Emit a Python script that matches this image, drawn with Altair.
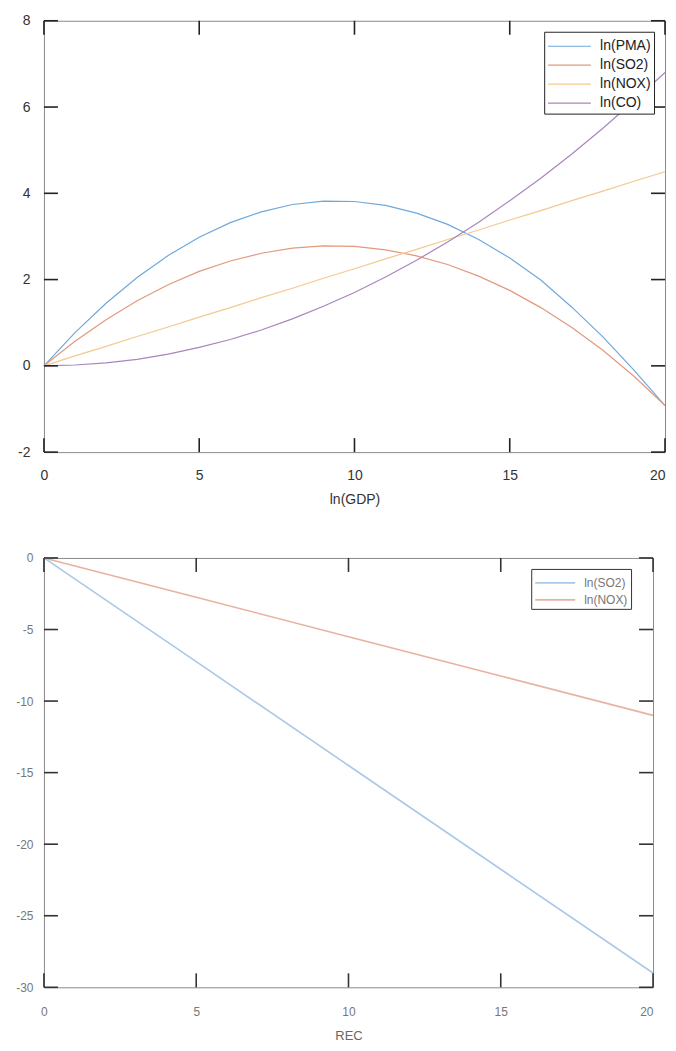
import altair as alt
import pandas as pd

# ---------------- data ----------------
x_gdp = list(range(0, 21))
pma = [0, 0.77, 1.45, 2.05, 2.56, 2.98, 3.32, 3.57, 3.74, 3.82, 3.81,
       3.72, 3.54, 3.28, 2.93, 2.50, 1.99, 1.36, 0.67, -0.10, -0.92]
so2 = [0, 0.57, 1.07, 1.51, 1.88, 2.19, 2.43, 2.61, 2.73, 2.78, 2.77,
       2.69, 2.55, 2.35, 2.08, 1.75, 1.35, 0.89, 0.36, -0.24, -0.92]
nox = [0, 0.23, 0.45, 0.68, 0.90, 1.13, 1.35, 1.58, 1.80, 2.03, 2.25,
       2.48, 2.70, 2.93, 3.15, 3.38, 3.60, 3.83, 4.05, 4.28, 4.50]
co = [0, 0.02, 0.07, 0.15, 0.27, 0.43, 0.61, 0.83, 1.09, 1.38, 1.70,
      2.06, 2.45, 2.87, 3.33, 3.83, 4.35, 4.91, 5.51, 6.14, 6.80]
names_top = ["ln(PMA)", "ln(SO2)", "ln(NOX)", "ln(CO)"]
colors_top = ["#6fa8dc", "#e3997d", "#f3c98e", "#a985bd"]
xt_top = [0, 5, 10, 15, 20]
yt_top = [-2, 0, 2, 4, 6, 8]

x_rec = [0, 5, 10, 15, 20]
rec_so2 = [0, -7.25, -14.5, -21.75, -29.0]
rec_nox = [0, -2.75, -5.5, -8.25, -11.0]
names_bot = ["ln(SO2)", "ln(NOX)"]
colors_bot = ["#a9c9e8", "#e8b2a2"]
xt_bot = [0, 5, 10, 15, 20]
yt_bot = [-30, -25, -20, -15, -10, -5, 0]

FONT = "Liberation Sans"
LABEL_EXPR = "datum.value + ''"
XALIGN = alt.expr("datum.value == 20 ? 'right' : 'center'")


def panel(df, names, colors, xt, yt, xdom, ydom, W, H, L, tickcolor, xaxis, yaxis, legend, lw):
    xs = alt.Scale(domain=xdom, nice=False, zero=False)
    ys = alt.Scale(domain=ydom, nice=False, zero=False)
    lines = alt.Chart(df).mark_line(strokeWidth=lw).encode(
        x=alt.X("x:Q", scale=xs, axis=xaxis),
        y=alt.Y("y:Q", scale=ys, axis=yaxis),
        color=alt.Color("s:N", scale=alt.Scale(domain=names, range=colors), legend=legend),
        detail="s:N",
    )
    dx = pd.DataFrame({"x": xt})
    dy = pd.DataFrame({"y": yt})
    common = dict(color=tickcolor, strokeWidth=1.6)
    bottom = alt.Chart(dx).mark_rule(**common).encode(
        x=alt.X("x:Q", scale=xs, axis=xaxis), y=alt.value(H), y2=alt.value(H - L))
    top = alt.Chart(dx).mark_rule(**common).encode(
        x=alt.X("x:Q", scale=xs, axis=xaxis), y=alt.value(0), y2=alt.value(L))
    left = alt.Chart(dy).mark_rule(**common).encode(
        y=alt.Y("y:Q", scale=ys, axis=yaxis), x=alt.value(0), x2=alt.value(L))
    right = alt.Chart(dy).mark_rule(**common).encode(
        y=alt.Y("y:Q", scale=ys, axis=yaxis), x=alt.value(W - L), x2=alt.value(W))
    return alt.layer(lines, bottom, top, left, right).properties(width=W, height=H)


# ---------------- top chart ----------------
W1, H1 = 622, 432
df_top = pd.DataFrame({
    "x": x_gdp * 4,
    "y": pma + so2 + nox + co,
    "s": [n for n in names_top for _ in x_gdp],
})
xaxis_top = alt.Axis(values=xt_top, title="ln(GDP)", ticks=False, domain=False,
                     grid=False, labelPadding=16, labelFontSize=14, labelAlign=XALIGN,
                     labelColor="#333", titleFontSize=14, titleFontWeight="normal",
                     titleColor="#333", titlePadding=10, labelFont=FONT, titleFont=FONT,
                     labelExpr=LABEL_EXPR)
yaxis_top = alt.Axis(values=yt_top, title=None, ticks=False, domain=False, grid=False,
                     labelPadding=14, labelFontSize=14, labelColor="#333",
                     labelFont=FONT, minExtent=35, maxExtent=35, labelExpr=LABEL_EXPR)
legend_top = alt.Legend(title=None, orient="top-right", offset=11,
                        strokeColor="#222", fillColor="white", padding=3,
                        symbolType="M-1,0H3", symbolSize=462,
                        symbolStrokeWidth=1.2, labelFontSize=14,
                        labelFont=FONT, labelColor="#222",
                        labelOffset=30, rowPadding=0)
top_chart = panel(df_top, names_top, colors_top, xt_top, yt_top, [0, 20], [-2, 8],
                  W1, H1, 14, "#222", xaxis_top, yaxis_top, legend_top, 1.2)

# ---------------- bottom chart ----------------
W2, H2 = 610, 430
df_bot = pd.DataFrame({
    "x": x_rec * 2,
    "y": rec_so2 + rec_nox,
    "s": [n for n in names_bot for _ in x_rec],
})
xaxis_bot = alt.Axis(values=xt_bot, title="REC", ticks=False, domain=False,
                     grid=False, labelPadding=19, labelFontSize=12, labelAlign=XALIGN,
                     labelColor="#777", titleFontSize=13, titleFontWeight="normal",
                     titleColor="#666", titlePadding=12, labelFont=FONT, titleFont=FONT,
                     labelExpr=LABEL_EXPR)
yaxis_bot = alt.Axis(values=yt_bot, title=None, ticks=False, domain=False, grid=False,
                     labelPadding=11, labelFontSize=12, labelColor="#777",
                     labelFont=FONT, minExtent=35, maxExtent=35, labelExpr=LABEL_EXPR)
legend_bot = alt.Legend(title=None, orient="none", legendX=488, legendY=11,
                        strokeColor="#333", fillColor="white", padding=3,
                        symbolType="M-1,0H3", symbolSize=400,
                        symbolStrokeWidth=1.6, labelFontSize=12,
                        labelFont=FONT, labelColor="#777",
                        labelOffset=28, rowPadding=0)
bot_chart = panel(df_bot, names_bot, colors_bot, xt_bot, yt_bot, [0, 20], [-30, 0],
                  W2, H2, 14, "#333", xaxis_bot, yaxis_bot, legend_bot, 1.6)

chart = alt.vconcat(top_chart, bot_chart, spacing=44).resolve_scale(
    color="independent"
).configure_view(stroke="#8a8a8a", strokeWidth=1).properties(
    padding={"left": 0, "top": 4, "right": 0, "bottom": 0},
    background="white",
)

chart.save("out.html", embed_options={"renderer": "svg", "actions": False})
